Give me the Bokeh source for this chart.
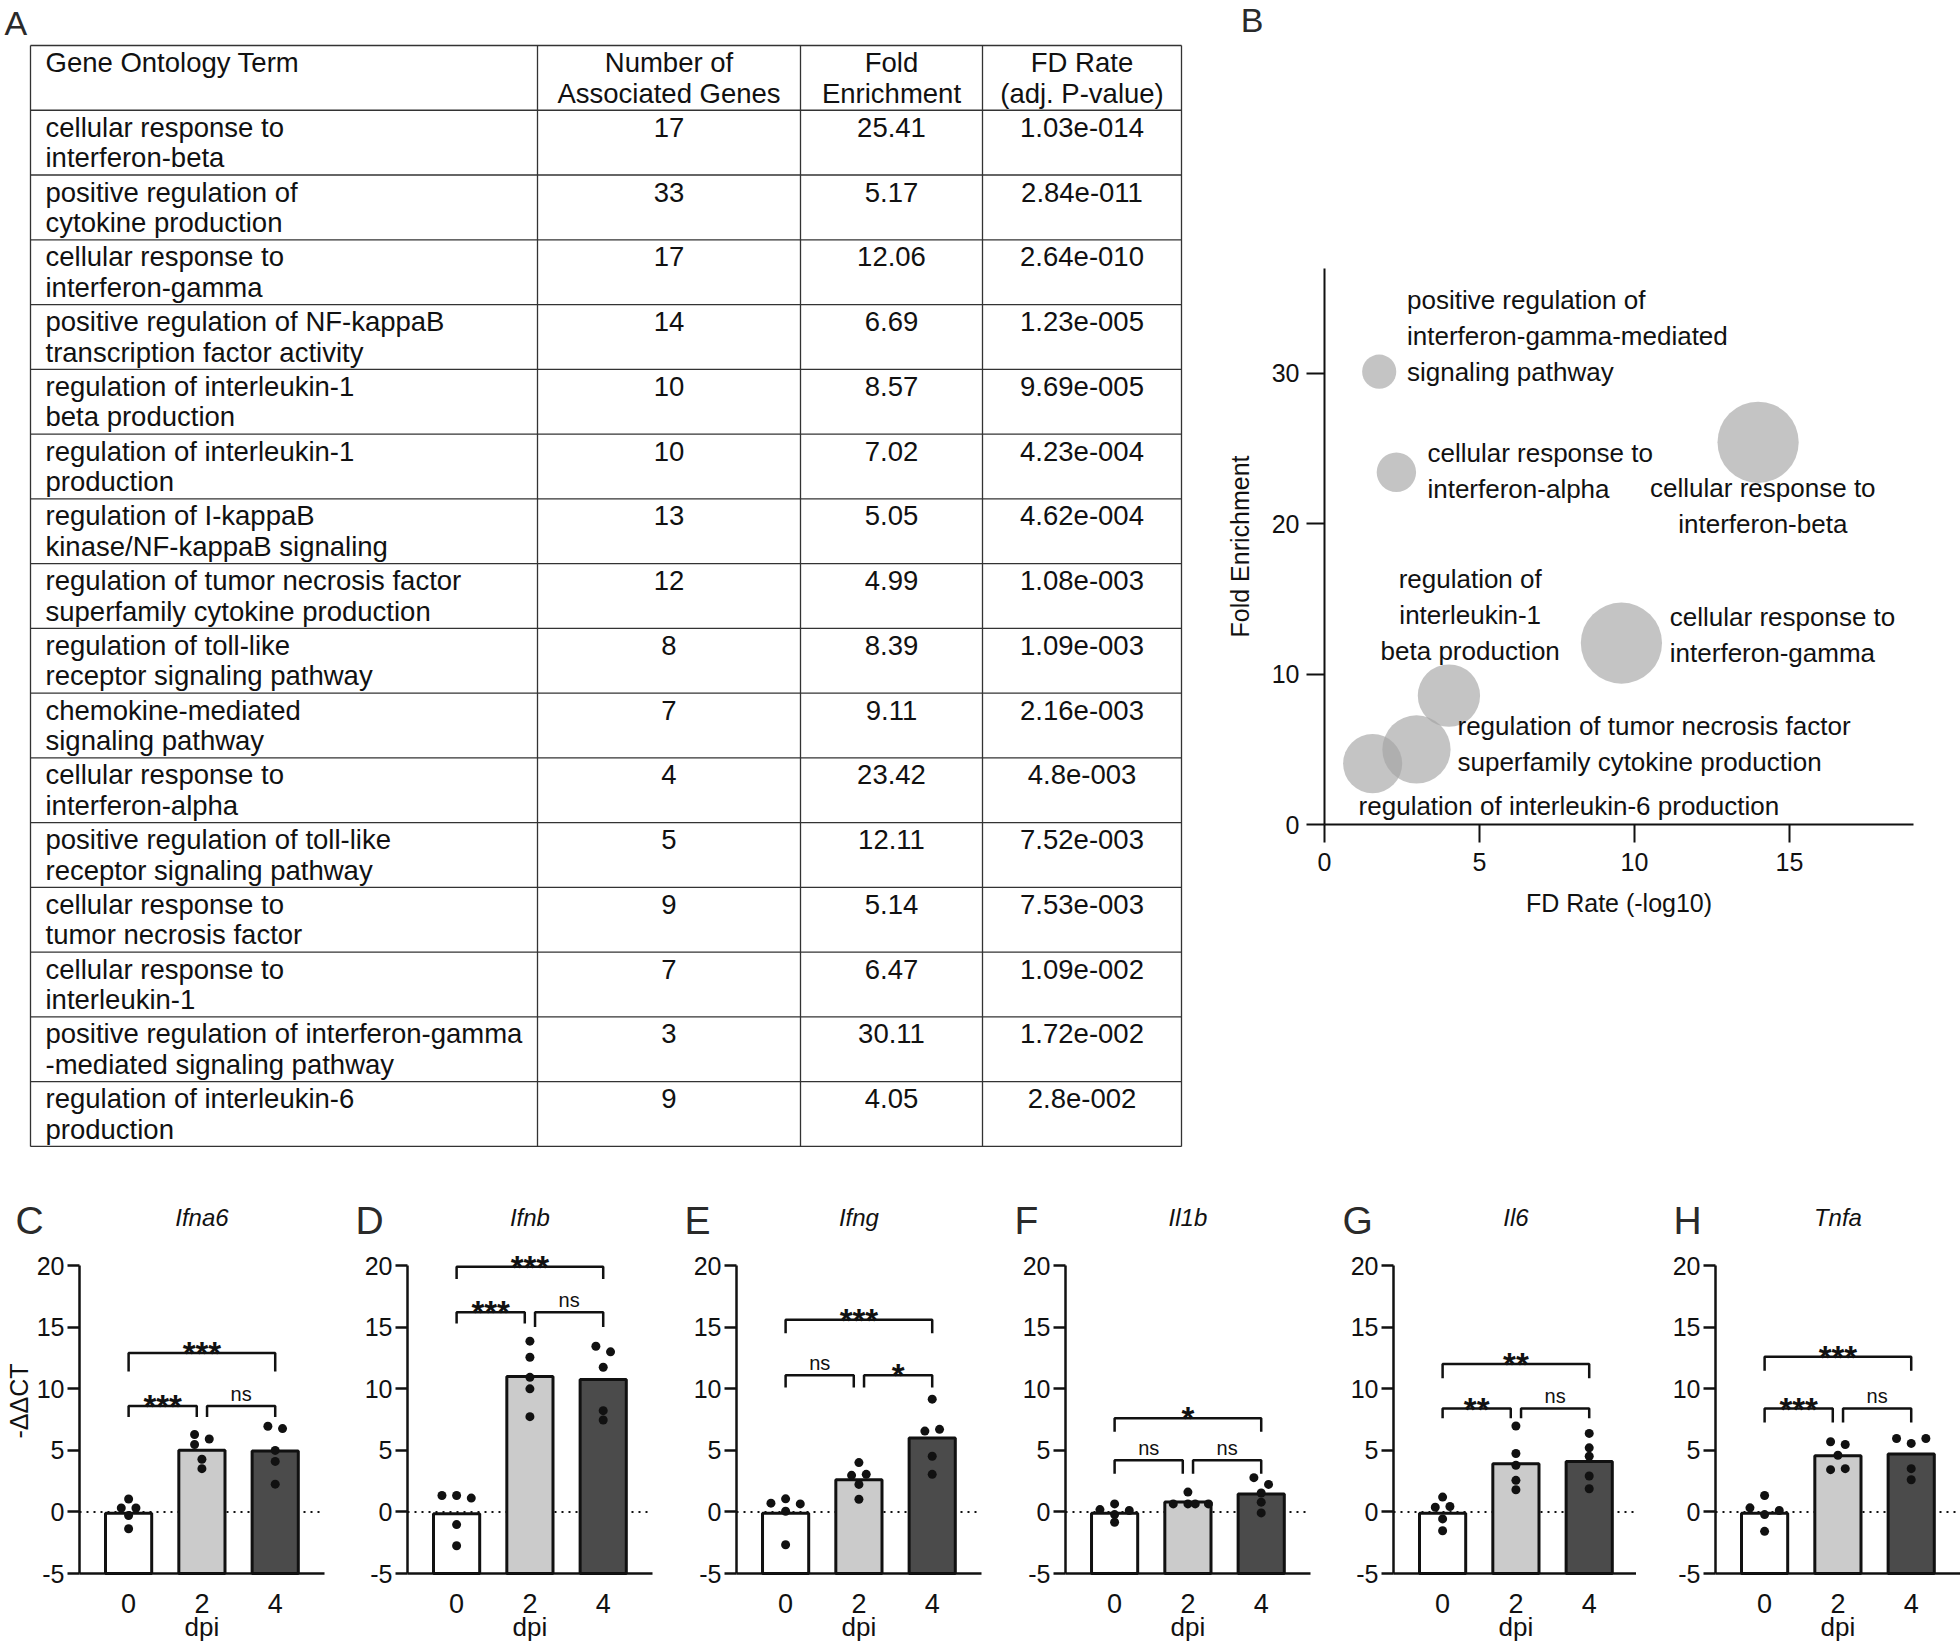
import math
from bokeh.plotting import figure
from bokeh.layouts import row, column
from bokeh.models import Range1d, FixedTicker
from bokeh.embed import file_html
from bokeh.resources import INLINE
from bokeh.core.properties import value

FONT = "Liberation Sans"
INK = "#111111"

# ---------------- Panel A: GO table ----------------
TABLE_HEADER = ["Gene Ontology Term", "Number of\nAssociated Genes", "Fold\nEnrichment", "FD Rate\n(adj. P-value)"]
GO_TERMS = [
    "cellular response to\ninterferon-beta",
    "positive regulation of\ncytokine production",
    "cellular response to\ninterferon-gamma",
    "positive regulation of NF-kappaB\ntranscription factor activity",
    "regulation of interleukin-1\nbeta production",
    "regulation of interleukin-1\nproduction",
    "regulation of I-kappaB\nkinase/NF-kappaB signaling",
    "regulation of tumor necrosis factor\nsuperfamily cytokine production",
    "regulation of toll-like\nreceptor signaling pathway",
    "chemokine-mediated\nsignaling pathway",
    "cellular response to\ninterferon-alpha",
    "positive regulation of toll-like\nreceptor signaling pathway",
    "cellular response to\ntumor necrosis factor",
    "cellular response to\ninterleukin-1",
    "positive regulation of interferon-gamma\n-mediated signaling pathway",
    "regulation of interleukin-6\nproduction",
]
N_GENES = [17, 33, 17, 14, 10, 10, 13, 12, 8, 7, 4, 5, 9, 7, 3, 9]
FOLD_ENRICH = [25.41, 5.17, 12.06, 6.69, 8.57, 7.02, 5.05, 4.99, 8.39, 9.11, 23.42, 12.11, 5.14, 6.47, 30.11, 4.05]
FD_RATE = ["1.03e-014", "2.84e-011", "2.64e-010", "1.23e-005", "9.69e-005", "4.23e-004",
           "4.62e-004", "1.08e-003", "1.09e-003", "2.16e-003", "4.8e-003", "7.52e-003",
           "7.53e-003", "1.09e-002", "1.72e-002", "2.8e-002"]

# ---------------- Panel B: bubble chart (subset of table rows) ----------------
BUBBLE_ROWS = [14, 10, 0, 4, 2, 7, 15]
BUBBLE_LABELS = [
    "positive regulation of\ninterferon-gamma-mediated\nsignaling pathway",
    "cellular response to\ninterferon-alpha",
    "cellular response to\ninterferon-beta",
    "regulation of\ninterleukin-1\nbeta production",
    "cellular response to\ninterferon-gamma",
    "regulation of tumor necrosis factor\nsuperfamily cytokine production",
    "regulation of interleukin-6 production",
]
LABEL_X = [2.66, 3.32, 14.14, 4.70, 11.14, 4.29, 1.10]
LABEL_Y = [32.5, 23.5, 21.15, 13.95, 12.6, 5.37, 1.2]
LABEL_ALIGN = ["left", "left", "center", "center", "left", "left", "left"]
B_XTICKS = [0, 5, 10, 15]
B_YTICKS = [0, 10, 20, 30]

# ---------------- Panels C-H: qPCR ----------------
GENES = ["Ifna6", "Ifnb", "Ifng", "Il1b", "Il6", "Tnfa"]
PANEL_LETTERS = ["C", "D", "E", "F", "G", "H"]
DPI = ["0", "2", "4"]
Y_TICKS = [-5, 0, 5, 10, 15, 20]
BAR_MEANS = {
    "Ifna6": [-0.1, 5.0, 4.95],
    "Ifnb": [-0.15, 11.0, 10.75],
    "Ifng": [-0.1, 2.6, 6.0],
    "Il1b": [-0.1, 0.8, 1.45],
    "Il6": [-0.1, 3.9, 4.1],
    "Tnfa": [-0.1, 4.55, 4.7],
}
POINTS = {
    "Ifna6": [[1.05, 0.32, 0.32, -0.3, -1.37], [6.28, 5.92, 5.47, 4.27, 3.51], [6.95, 6.76, 4.99, 4.10, 2.25]],
    "Ifnb": [[1.33, 1.33, 1.12, -1.03, -2.75], [13.86, 12.55, 10.92, 9.99, 7.73], [13.45, 12.99, 11.74, 8.22, 7.46]],
    "Ifng": [[0.71, 1.06, 0.65, 0.05, -2.67], [4.0, 2.97, 3.05, 2.23, 1.03], [9.15, 6.56, 6.70, 4.52, 3.05]],
    "Il1b": [[0.19, 0.65, 0.11, -0.22, -0.84], [1.61, 0.65, 0.65, 0.65, 0.65], [2.78, 2.23, 1.53, 0.79, -0.08]],
    "Il6": [[1.2, 0.38, 0.44, -0.57, -1.53], [6.97, 4.74, 3.79, 2.56, 1.8], [6.37, 5.2, 4.52, 2.91, 1.88]],
    "Tnfa": [[1.33, 0.33, 0.11, -0.22, -1.58], [5.69, 5.47, 4.6, 3.43, 3.51], [5.96, 5.96, 5.56, 3.51, 2.61]],
}
JITTER = {
    "Ifna6": [[0, -0.1, 0.1, 0, 0], [-0.1, 0.1, -0.1, 0, 0], [-0.1, 0.1, 0, 0, 0]],
    "Ifnb": [[-0.2, 0, 0.2, 0, 0], [0, 0, 0, 0, 0], [-0.1, 0.1, 0, 0, 0]],
    "Ifng": [[-0.2, 0, 0.2, 0, 0], [0, -0.1, 0.1, 0, 0], [0, -0.1, 0.1, 0, 0]],
    "Il1b": [[-0.2, 0, 0.2, 0, 0], [0, -0.2, 0, 0.1, 0.28], [-0.1, 0.1, 0, 0, 0]],
    "Il6": [[0, -0.1, 0.1, 0, 0], [0, 0, 0, 0, 0], [0, 0, 0, 0, 0]],
    "Tnfa": [[0, -0.2, 0.2, 0, 0], [-0.1, 0.1, 0, -0.1, 0.1], [-0.2, 0.2, 0, 0, 0]],
}
# (group i, group j, bracket level, label, drop)
BRACKETS = {
    "Ifna6": [(0, 1, 8.6, "***", 0.9), (1, 2, 8.6, "ns", 0.9), (0, 2, 12.9, "***", 1.5)],
    "Ifnb": [(0, 1, 16.2, "***", 0.9), (1, 2, 16.2, "ns", 1.2), (0, 2, 19.9, "***", 1.0)],
    "Ifng": [(0, 1, 11.1, "ns", 1.0), (1, 2, 11.1, "*", 1.0), (0, 2, 15.6, "***", 1.1)],
    "Il1b": [(0, 1, 4.2, "ns", 1.1), (1, 2, 4.2, "ns", 1.1), (0, 2, 7.6, "*", 1.1)],
    "Il6": [(0, 1, 8.4, "**", 0.8), (1, 2, 8.4, "ns", 0.8), (0, 2, 12.0, "**", 1.15)],
    "Tnfa": [(0, 1, 8.4, "***", 1.15), (1, 2, 8.4, "ns", 1.15), (0, 2, 12.6, "***", 1.15)],
}
BAR_FILLS = ["#ffffff", "#cbcbcb", "#4b4b4b"]

TOP_H = 1170
BOTTOM_H = 475


def bare_figure(w, h, xr, yr):
    p = figure(width=w, height=h, x_range=xr, y_range=yr, toolbar_location=None,
               output_backend="svg", min_border=0)
    p.title.visible = False
    p.outline_line_color = None
    p.grid.visible = False
    return p


# ================= Panel A =================
def make_table():
    W, H = 1223, TOP_H
    p = figure(width=W, height=H, x_range=Range1d(0, W), y_range=Range1d(H, 0),
               x_axis_type=None, y_axis_type=None, toolbar_location=None,
               output_backend="svg", min_border=0)
    p.title.visible = False
    p.outline_line_color = None
    col_x = [30, 537, 800, 982, 1181]
    top = 45
    row_h = 64.76
    nrows = len(GO_TERMS) + 1
    bottom = top + nrows * row_h
    hx = [[col_x[0], col_x[-1]] for _ in range(nrows + 1)]
    hy = [[top + r * row_h] * 2 for r in range(nrows + 1)]
    vx = [[x, x] for x in col_x]
    vy = [[top, bottom] for _ in col_x]
    p.multi_line(hx + vx, hy + vy, line_color="#333333", line_width=1.3)

    centers = [45, (col_x[1] + col_x[2]) / 2, (col_x[2] + col_x[3]) / 2, (col_x[3] + col_x[4]) / 2]
    aligns = ["left", "center", "center", "center"]
    xs, ys, ts, al = [], [], [], []
    rows = [TABLE_HEADER] + [[GO_TERMS[i], str(N_GENES[i]), f"{FOLD_ENRICH[i]:.2f}", FD_RATE[i]]
                              for i in range(len(GO_TERMS))]
    for r, cells in enumerate(rows):
        rt = top + r * row_h
        for c, cell in enumerate(cells):
            for li, line in enumerate(cell.split("\n")):
                xs.append(centers[c])
                ys.append(rt + 17 + li * 30.5)
                ts.append(line)
                al.append(aligns[c])
    p.text(x=xs, y=ys, text=ts, text_align=al, text_baseline="middle",
           text_font=value(FONT), text_font_size="27.5px", text_color=INK)
    p.text(x=[4], y=[22], text=["A"], text_align="left", text_baseline="middle",
           text_font=value(FONT), text_font_size="34px", text_color="#2a2a2a")
    return p


# ================= Panel B =================
def make_bubbles():
    W, H = 737, TOP_H
    ox, oy = 101, 824          # canvas position of the data origin
    ux, uy = 31.0, 15.04       # pixels per data unit
    xr = Range1d(-ox / ux, (W - ox) / ux)
    yr = Range1d(-(H - oy) / uy, oy / uy)
    p = bare_figure(W, H, xr, yr)
    fx = [-math.log10(float(FD_RATE[i])) for i in BUBBLE_ROWS]
    fy = [FOLD_ENRICH[i] for i in BUBBLE_ROWS]
    fs = [19.7 * math.sqrt(N_GENES[i]) for i in BUBBLE_ROWS]
    p.scatter(fx, fy, size=fs, fill_color="#a4a4a4", fill_alpha=0.65, line_color=None)
    p.text(x=LABEL_X, y=LABEL_Y, text=BUBBLE_LABELS, text_align=LABEL_ALIGN,
           text_baseline="middle", text_font=value(FONT), text_font_size="26px",
           text_line_height=1.2, text_color=INK)
    p.xaxis.ticker = FixedTicker(ticks=B_XTICKS)
    p.yaxis.ticker = FixedTicker(ticks=B_YTICKS)
    p.xaxis.fixed_location = 0
    p.yaxis.fixed_location = 0
    p.xaxis.bounds = (0, 19)
    p.yaxis.bounds = (0, 37)
    p.xaxis.axis_label = "FD Rate (-log10)"
    p.yaxis.axis_label = "Fold Enrichment"
    for ax in (p.xaxis[0], p.yaxis[0]):
        ax.axis_line_width = 2
        ax.axis_line_color = INK
        ax.major_tick_line_width = 2
        ax.major_tick_line_color = INK
        ax.major_tick_out = 18
        ax.major_tick_in = 0
        ax.minor_tick_line_color = None
        ax.major_label_text_font = FONT
        ax.major_label_text_font_size = "25px"
        ax.major_label_text_color = INK
        ax.axis_label_text_font = FONT
        ax.axis_label_text_font_size = "25px"
        ax.axis_label_text_font_style = "normal"
        ax.axis_label_text_color = INK
    p.xaxis.major_label_standoff = 10
    p.yaxis.major_label_standoff = 7
    p.xaxis.axis_label_standoff = 15
    p.yaxis.axis_label_standoff = 15
    p.text(x=[-2.7], y=[53.5], text=["B"], text_align="left", text_baseline="middle",
           text_font=value(FONT), text_font_size="34px", text_color="#2a2a2a")
    return p


# ================= Panels C-H =================
def make_bar_panel(k, gene, width):
    H = BOTTOM_H
    ax_x = 79                  # canvas x of the y axis
    base_y = 403               # canvas y (from top) of the -5 baseline
    ux, uy = 73.3, 12.32
    x_lo, x_hi = -0.67, 2.67
    x0 = x_lo - ax_x / ux
    y0 = -5 - (H - base_y) / uy
    p = bare_figure(width, H, Range1d(x0, x0 + width / ux), Range1d(y0, y0 + H / uy))

    p.line([x_lo, x_hi], [0, 0], line_color=INK, line_width=2, line_dash="2 5")
    p.vbar(x=[0, 1, 2], top=BAR_MEANS[gene], bottom=-5, width=0.63,
           fill_color=BAR_FILLS, line_color=INK, line_width=3)
    dx, dy = [], []
    for g in range(3):
        for v, j in zip(POINTS[gene][g], JITTER[gene][g]):
            dx.append(g + j)
            dy.append(v)
    p.scatter(dx, dy, size=9, fill_color=INK, line_color=None)

    bxs, bys, tx, ty, tt = [], [], [], [], []
    for (i, j, lvl, lab, drop) in BRACKETS[gene]:
        bx0 = i + (0.07 if (i == 1 and j == 2) else 0)
        bx1 = j - (0.07 if (i == 0 and j == 1) else 0)
        bxs.append([bx0, bx0, bx1, bx1])
        bys.append([lvl - drop, lvl, lvl, lvl - drop])
        tx.append((bx0 + bx1) / 2)
        ty.append(lvl + 1.0 if lab == "ns" else lvl - 0.05)
        tt.append(lab)
    p.multi_line(bxs, bys, line_color=INK, line_width=2.5)
    ns_idx = [n for n, t in enumerate(tt) if t == "ns"]
    st_idx = [n for n, t in enumerate(tt) if t != "ns"]
    if ns_idx:
        p.text(x=[tx[n] for n in ns_idx], y=[ty[n] for n in ns_idx], text=[tt[n] for n in ns_idx],
               text_align="center", text_baseline="alphabetic", text_font=value(FONT),
               text_font_size="20px", text_color=INK)
    if st_idx:
        p.text(x=[tx[n] for n in st_idx], y=[ty[n] for n in st_idx], text=[tt[n] for n in st_idx],
               text_align="center", text_baseline="alphabetic", text_font=value(FONT),
               text_font_size="33px", text_font_style="bold", text_color=INK)

    p.xaxis.ticker = FixedTicker(ticks=[0, 1, 2])
    p.xaxis.major_label_overrides = {0: DPI[0], 1: DPI[1], 2: DPI[2]}
    p.xaxis.fixed_location = -5
    p.xaxis.bounds = (x_lo, x_hi)
    p.xaxis.major_tick_out = 0
    p.xaxis.major_tick_in = 0
    p.xaxis.major_label_standoff = 20
    p.xaxis.major_label_text_font_size = "27px"
    p.yaxis.ticker = FixedTicker(ticks=Y_TICKS)
    p.yaxis.major_label_overrides = {t: str(t) for t in Y_TICKS}
    p.yaxis.fixed_location = x_lo
    p.yaxis.bounds = (-5, 20)
    p.yaxis.major_tick_out = 12
    p.yaxis.major_tick_in = 0
    p.yaxis.major_label_standoff = 3
    p.yaxis.major_label_text_font_size = "25px"
    for ax in (p.xaxis[0], p.yaxis[0]):
        ax.axis_line_width = 2.5
        ax.axis_line_color = INK
        ax.major_tick_line_width = 2.5
        ax.major_tick_line_color = INK
        ax.minor_tick_line_color = None
        ax.major_label_text_font = FONT
        ax.major_label_text_color = INK

    letter_dx = [64, 52, 52, 51, 51, 42][k]
    p.text(x=[x_lo - letter_dx / ux], y=[23.65], text=[PANEL_LETTERS[k]], text_align="left",
           text_baseline="middle", text_font=value(FONT), text_font_size="39px",
           text_color="#2a2a2a")
    p.text(x=[1.0], y=[23.9], text=[gene], text_align="center", text_baseline="middle",
           text_font=value(FONT), text_font_size="24px", text_font_style="italic",
           text_color=INK)
    p.text(x=[1.0], y=[-9.38], text=["dpi"], text_align="center", text_baseline="middle",
           text_font=value(FONT), text_font_size="26px", text_color=INK)
    if k == 0:
        p.text(x=[x_lo - 61 / ux], y=[9.0], text=["-ΔΔCT"], text_align="center",
               text_baseline="middle", angle=math.pi / 2, text_font=value(FONT),
               text_font_size="25px", text_color=INK)
    return p


top_row = row(make_table(), make_bubbles())
widths = [328, 329, 329, 328, 322, 324]
bottom_row = row(*[make_bar_panel(k, g, widths[k]) for k, g in enumerate(GENES)])
layout = column(top_row, bottom_row)

open("out.html", "w").write(file_html(layout, INLINE))
